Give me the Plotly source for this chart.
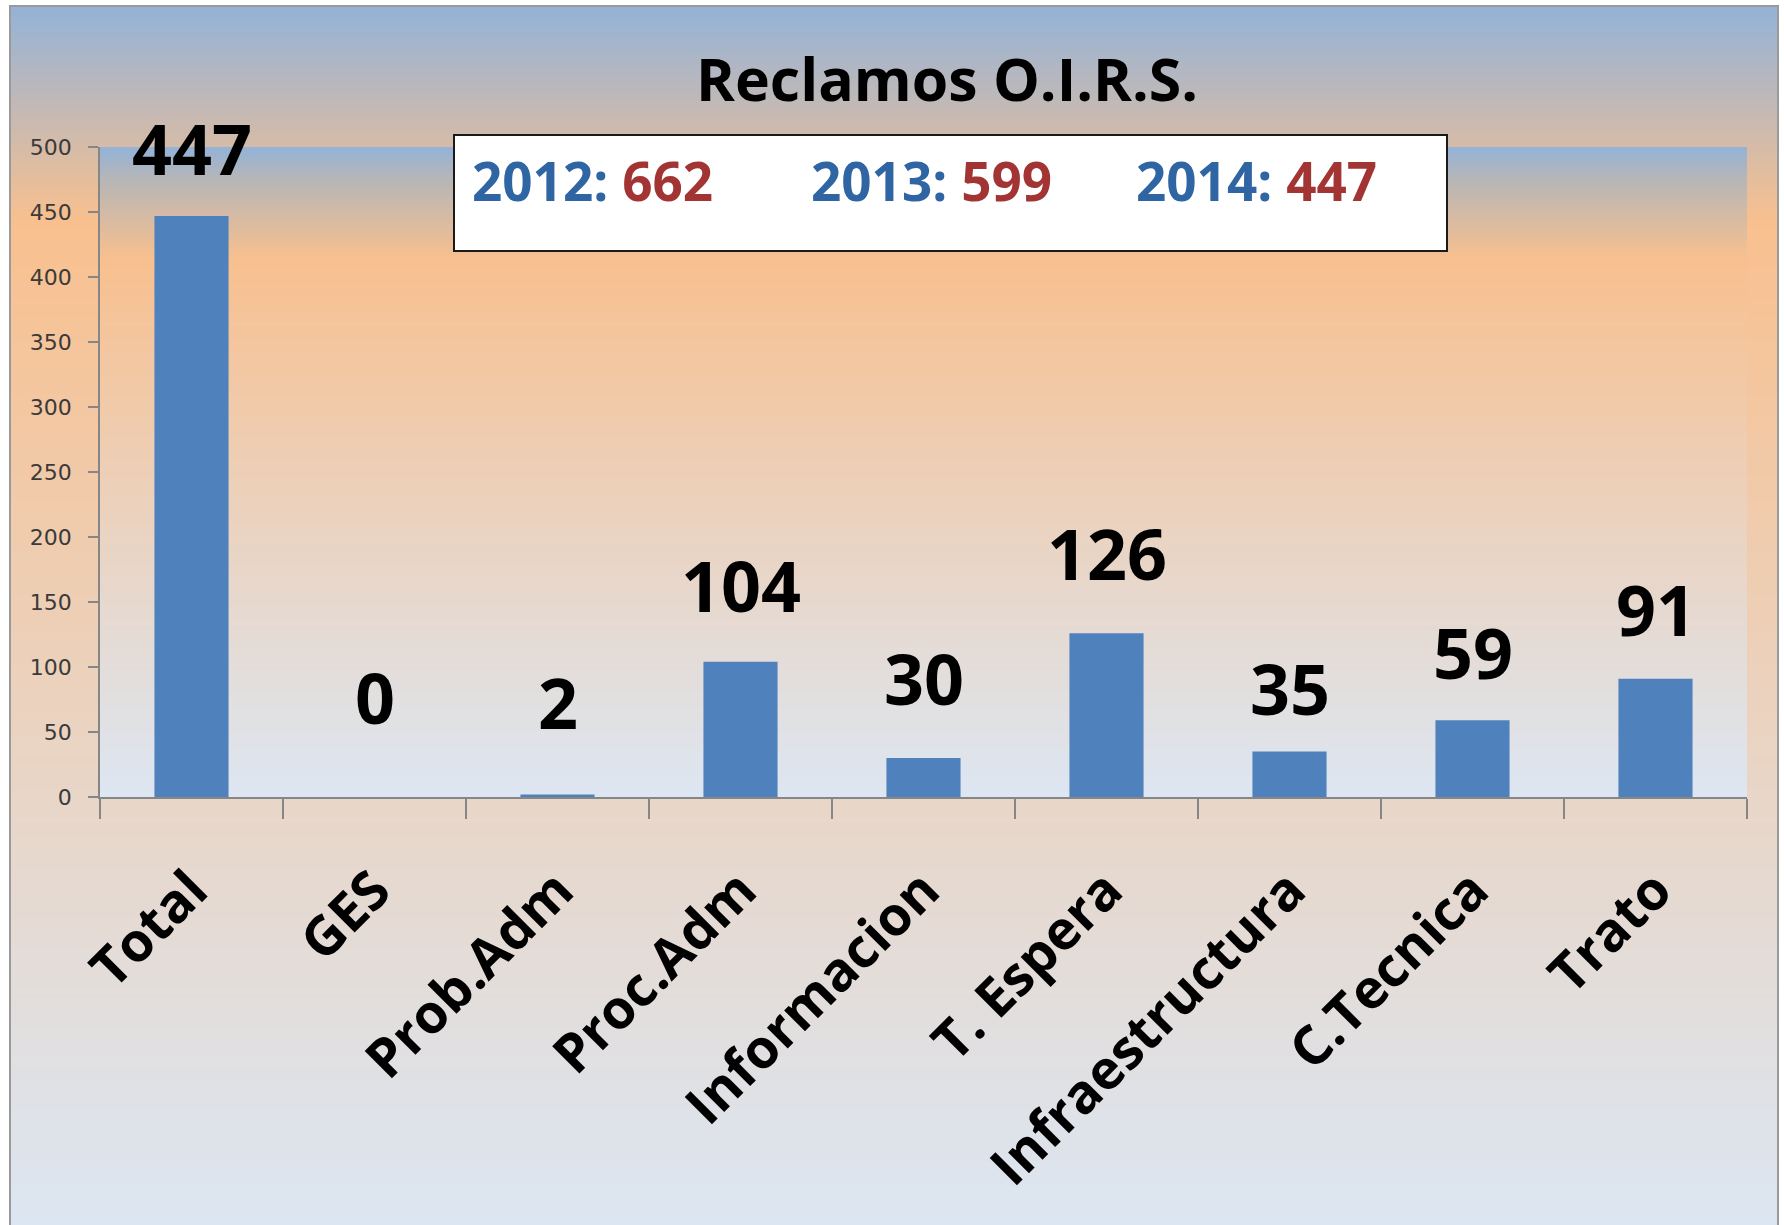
import base64
import struct
import zlib
import plotly.graph_objects as go

# ---------------- data ----------------
categories = ["Total", "GES", "Prob.Adm", "Proc.Adm", "Informacion",
              "T. Espera", "Infraestructura", "C.Tecnica", "Trato"]
values = [447, 0, 2, 104, 30, 126, 35, 59, 91]
years = [2012, 2013, 2014]
year_totals = [662, 599, 447]
title_text = "Reclamos O.I.R.S."
y_ticks = [0, 50, 100, 150, 200, 250, 300, 350, 400, 450, 500]

# ---------------- style ----------------
W, H = 1784, 1225
ML, MR, MT, MB = 100, 37, 147, 428
PW = W - ML - MR
PH = H - MT - MB
FONT = "Open Sans"
BAR_COLOR = "#4f81bd"
AXIS_COLOR = "#868686"
YEAR_COLOR = "#2f65a3"
TOTAL_COLOR = "#a33434"
# pixel gap between bar top and label baseline (label placement style)
label_gap_px = [40, 73, 65, 49, 53, 53, 36, 41, 42]
LABEL_SIZE = 70


def px_x(px):
    return (px - ML) / PW


def px_y(py):
    return (H - MB - py) / PH


def hex_rgb(h):
    h = h.lstrip("#")
    return tuple(int(h[i:i + 2], 16) for i in (0, 2, 4))


def gradient_png(stops, n=256, w=4):
    rows = []
    for i in range(n):
        t = i / (n - 1)
        for k in range(len(stops) - 1):
            t0, c0 = stops[k]
            t1, c1 = stops[k + 1]
            if t0 <= t <= t1:
                f = 0 if t1 == t0 else (t - t0) / (t1 - t0)
                a, b = hex_rgb(c0), hex_rgb(c1)
                rgb = bytes(int(round(a[j] + (b[j] - a[j]) * f)) for j in range(3))
                break
        rows.append(b"\x00" + rgb * w)
    raw = b"".join(rows)

    def chunk(tag, data):
        return (struct.pack(">I", len(data)) + tag + data +
                struct.pack(">I", zlib.crc32(tag + data) & 0xFFFFFFFF))

    png = (b"\x89PNG\r\n\x1a\n" +
           chunk(b"IHDR", struct.pack(">IIBBBBB", w, n, 8, 2, 0, 0, 0)) +
           chunk(b"IDAT", zlib.compress(raw, 9)) +
           chunk(b"IEND", b""))
    return "data:image/png;base64," + base64.b64encode(png).decode()


# chart-area gradient (y from 6 to 1225 px)
chart_top, chart_bot, chart_left, chart_right = 6, 1225, 10, 1778
outer_src = gradient_png([(0.0, "#95b3d7"),
                          ((220 - chart_top) / (chart_bot - chart_top), "#f9c08f"),
                          (1.0, "#dce6f2")])
# plot-area gradient (y from 147 to 797 px)
inner_src = gradient_png([(0.0, "#95b3d7"),
                          ((180 - MT) / PH, "#b9b6b6"),
                          ((258 - MT) / PH, "#f8c08f"),
                          (1.0, "#dde6f2")])

fig = go.Figure()
fig.add_trace(go.Bar(
    x=categories, y=values,
    marker=dict(color=BAR_COLOR, line=dict(width=0)),
    hoverinfo="x+y",
))

images = [
    dict(source=outer_src, xref="paper", yref="paper",
         x=px_x(chart_left), y=px_y(chart_top),
         sizex=(chart_right - chart_left) / PW, sizey=(chart_bot - chart_top) / PH,
         xanchor="left", yanchor="top", sizing="stretch", layer="below"),
    dict(source=inner_src, xref="paper", yref="paper",
         x=0, y=1, sizex=1, sizey=1,
         xanchor="left", yanchor="top", sizing="stretch", layer="below"),
]

shapes = [
    # chart-area border
    dict(type="rect", xref="paper", yref="paper",
         x0=px_x(chart_left), x1=px_x(chart_right),
         y0=px_y(chart_bot + 5), y1=px_y(chart_top),
         line=dict(color="#9a9a9a", width=2), fillcolor="rgba(0,0,0,0)", layer="above"),
    # totals box
    dict(type="rect", xref="paper", yref="paper",
         x0=px_x(454), x1=px_x(1447), y0=px_y(251), y1=px_y(135),
         line=dict(color="#1a1a1a", width=2), fillcolor="white", layer="above"),
]

annotations = []
# data labels
for cat, v, gap in zip(categories, values, label_gap_px):
    annotations.append(dict(
        x=cat, y=v, xref="x", yref="y", text=str(v), showarrow=False,
        yanchor="bottom", xanchor="center",
        yshift=gap - 0.293 * LABEL_SIZE,
        borderpad=0, borderwidth=0,
        font=dict(family=FONT, size=LABEL_SIZE, color="black", weight="bold"),
    ))
# title
annotations.append(dict(
    x=px_x(947), y=px_y(78), xref="paper", yref="paper", text=title_text,
    showarrow=False, xanchor="center", yanchor="middle",
    font=dict(family=FONT, size=59, color="black", weight="bold"),
))
# year totals inside box
box_centers_px = [592, 931, 1256]
for yr, tot, cx in zip(years, year_totals, box_centers_px):
    annotations.append(dict(
        x=px_x(cx), y=px_y(181), xref="paper", yref="paper",
        text=f"<span style='color:{YEAR_COLOR}'>{yr}:</span> "
             f"<span style='color:{TOTAL_COLOR}'>{tot}</span>",
        showarrow=False, xanchor="center", yanchor="middle",
        font=dict(family=FONT, size=53, weight="bold"),
    ))

fig.update_layout(
    width=W, height=H,
    margin=dict(l=ML, r=MR, t=MT, b=MB, autoexpand=False),
    paper_bgcolor="white",
    plot_bgcolor="rgba(0,0,0,0)",
    showlegend=False,
    bargap=0.595,
    images=images,
    shapes=shapes,
    annotations=annotations,
    xaxis=dict(
        type="category", showgrid=False, zeroline=False,
        showline=True, linecolor=AXIS_COLOR, linewidth=1.5,
        ticks="outside", ticklen=20, tickcolor=AXIS_COLOR, tickwidth=1.5,
        tickson="boundaries", tickangle=-45, ticklabelstandoff=38,
        tickfont=dict(family=FONT, size=54, color="black", weight="bold"),
    ),
    yaxis=dict(
        range=[0, 500], tickvals=y_ticks, showgrid=False, zeroline=False,
        showline=True, linecolor=AXIS_COLOR, linewidth=1.5,
        ticks="outside", ticklen=10, tickcolor=AXIS_COLOR, tickwidth=1.5,
        ticklabelstandoff=12,
        tickfont=dict(family="DejaVu Sans", size=22, color="#3a3a3a"),
    ),
)

fig.write_html("out.html", config={"displayModeBar": False},
               post_script="document.body.style.margin='0';")
